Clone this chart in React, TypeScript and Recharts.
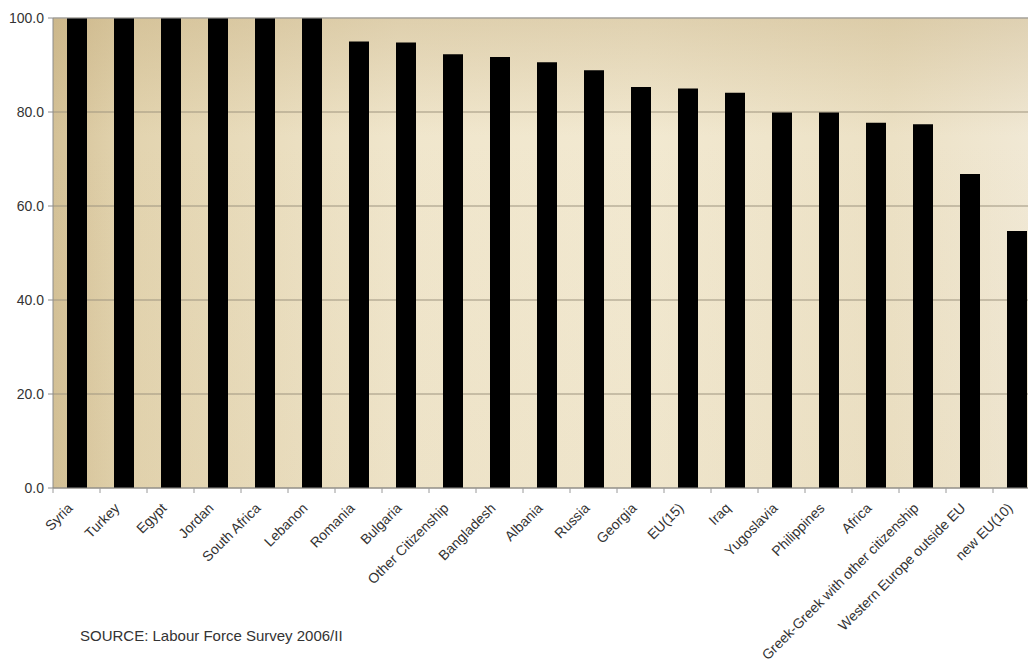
import React from 'react';
import { BarChart, Bar, XAxis, YAxis, CartesianGrid, ReferenceArea, ReferenceLine } from 'recharts';

const countries = [
  'Syria',
  'Turkey',
  'Egypt',
  'Jordan',
  'South Africa',
  'Lebanon',
  'Romania',
  'Bulgaria',
  'Other Citizenship',
  'Bangladesh',
  'Albania',
  'Russia',
  'Georgia',
  'EU(15)',
  'Iraq',
  'Yugoslavia',
  'Philippines',
  'Africa',
  'Greek-Greek with other citizenship',
  'Western Europe outside EU',
  'new EU(10)',
];

const shares = [
  100, 100, 100, 100, 100, 100, 95.0, 94.8, 92.3, 91.7, 90.6, 88.9, 85.3, 85.0, 84.1, 79.9, 79.9, 77.7,
  77.4, 66.8, 54.7,
];

const yTicks = [0, 20, 40, 60, 80, 100];

const sourceNote = 'SOURCE: Labour Force Survey 2006/II';

const data = countries.map((name, i) => ({ name, value: shares[i] }));

const font = 'Arial, "Liberation Sans", sans-serif';

// Excel-style tick: marks sit on the category boundaries, labels turned 45°
const CategoryTick = (props: any) => {
  const { x, y, payload } = props;
  const half = payload?.offset ?? 0;
  return (
    <g>
      <line x1={x - half} y1={y} x2={x - half} y2={y + 5} stroke="#9a9a9a" />
      <text
        x={x - 3}
        y={y + 21}
        textAnchor="end"
        transform={`rotate(-45, ${x - 3}, ${y + 21})`}
        fontSize={14}
        fontFamily={font}
        fill="#333"
      >
        {payload.value}
      </text>
    </g>
  );
};

export default function App() {
  return (
    <div
      style={{
        position: 'absolute',
        left: 0,
        top: 0,
        width: 1028,
        height: 669,
        overflow: 'hidden',
        background: '#fff',
      }}
    >
      <BarChart
        width={1040}
        height={669}
        data={data}
        margin={{ top: 18, right: 0, bottom: 0, left: 0 }}
      >
        <defs>
          <linearGradient id="plotBg" x1="0" y1="0" x2="1" y2="0">
            <stop offset="0%" stopColor="#d4c197" />
            <stop offset="7%" stopColor="#e2d3ae" />
            <stop offset="35%" stopColor="#f0e6cc" />
            <stop offset="60%" stopColor="#f2e9d1" />
            <stop offset="85%" stopColor="#ece1c5" />
            <stop offset="100%" stopColor="#f1e9d6" />
          </linearGradient>
          <linearGradient id="plotShade" x1="0" y1="0" x2="0" y2="1">
            <stop offset="0%" stopColor="#bea573" stopOpacity={0.35} />
            <stop offset="25%" stopColor="#bea573" stopOpacity={0} />
            <stop offset="100%" stopColor="#bea573" stopOpacity={0.06} />
          </linearGradient>
        </defs>
        <CartesianGrid vertical={false} stroke="#9d9480" fill="url(#plotBg)" fillOpacity={1} />
        <ReferenceArea y1={0} y2={100} fill="url(#plotShade)" fillOpacity={1} strokeWidth={0} />
        <XAxis
          dataKey="name"
          interval={0}
          height={181}
          tickLine={false}
          tickSize={0}
          tickMargin={0}
          axisLine={{ stroke: '#8c8c8c' }}
          tick={<CategoryTick />}
        />
        <YAxis
          width={53}
          domain={[0, 100]}
          ticks={yTicks}
          tickFormatter={(v: number) => v.toFixed(1)}
          tickSize={5}
          tickMargin={4}
          tickLine={{ stroke: '#8c8c8c' }}
          axisLine={{ stroke: '#8c8c8c' }}
          tick={{ fontSize: 14, fontFamily: font, fill: '#333' }}
        />
        <ReferenceLine y={100} stroke="#a6a6a6" />
        <Bar dataKey="value" fill="#000" barSize={20} isAnimationActive={false} />
      </BarChart>
      <div
        style={{
          position: 'absolute',
          left: 80,
          top: 627,
          fontFamily: font,
          fontSize: 15,
          color: '#333',
        }}
      >
        {sourceNote}
      </div>
    </div>
  );
}
